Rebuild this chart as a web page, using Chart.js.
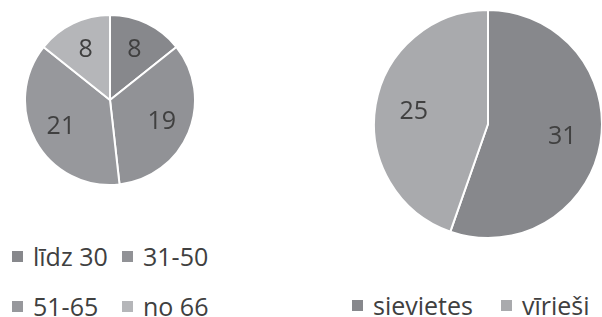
<!DOCTYPE html>
<html>
<head>
<meta charset="utf-8">
<script src="https://cdn.jsdelivr.net/npm/chart.js@4.4.1/dist/chart.umd.min.js"></script>
<style>
	html, body { margin: 0; padding: 0; background: #fff; }
	body { width: 602px; height: 317px; position: relative; overflow: hidden; font-family: 'Open Sans', sans-serif; }
	.pie { position: absolute; }
	.legend { position: absolute; display: grid; color: #404040; font-size: 25px; }
	.legend .item { display: flex; align-items: center; height: 50px; white-space: nowrap; }
	.legend .box { width: 11px; height: 11px; margin-right: 10px; flex: none; }
</style>
</head>
<body>
<div class="pie" style="left:24px; top:14px; width:172px; height:172px;"><canvas id="ageChart"></canvas></div>
<div class="pie" style="left:373px; top:9px; width:230px; height:230px;"><canvas id="genderChart"></canvas></div>
<div class="legend" id="ageLegend" style="left:12px; top:231px; grid-template-columns:110px 110px;"></div>
<div class="legend" id="genderLegend" style="left:352px; top:280px; grid-template-columns:149px auto;"></div>
<script>
	'use strict';

	// vecuma grupas
	const ageLabels = ['līdz 30', '31-50', '51-65', 'no 66'];
	const ageValues = [8, 19, 21, 8];
	const ageColors = ['#87888c', '#919296', '#97989c', '#b5b6b9'];

	// dzimums
	const genderLabels = ['sievietes', 'vīrieši'];
	const genderValues = [31, 25];
	const genderColors = ['#87888c', '#a9aaad'];

	// skaitļi uz sektoriem
	const valueLabels = {
		id: 'valueLabels',
		afterDatasetsDraw(chart) {
			let ctx = chart.ctx;
			let meta = chart.getDatasetMeta(0);
			let data = chart.data.datasets[0].data;
			ctx.save();
			ctx.font = '25px "Open Sans"';
			ctx.fillStyle = '#404040';
			ctx.textAlign = 'center';
			ctx.textBaseline = 'middle';
			meta.data.forEach(function (arc, i) {
				let p = arc.getProps(['x', 'y', 'startAngle', 'endAngle', 'outerRadius'], true);
				let mid = (p.startAngle + p.endAngle) / 2;
				let r = p.outerRadius * 0.66;
				ctx.fillText(data[i], p.x + Math.cos(mid) * r, p.y + Math.sin(mid) * r);
			});
			ctx.restore();
		}
	};

	function makePie(id, labels, values, colors) {
		return new Chart(document.getElementById(id), {
			type: 'pie',
			data: {
				labels: labels,
				datasets: [{
					data: values,
					backgroundColor: colors,
					borderColor: '#ffffff',
					borderWidth: 2
				}]
			},
			options: {
				responsive: true,
				maintainAspectRatio: false,
				animation: false,
				layout: { padding: 0 },
				plugins: {
					legend: { display: false },
					tooltip: { enabled: false }
				}
			},
			plugins: [valueLabels]
		});
	}

	function makeLegend(chart, el) {
		let ds = chart.data.datasets[0];
		chart.data.labels.forEach(function (label, i) {
			let item = document.createElement('div');
			item.className = 'item';
			let box = document.createElement('span');
			box.className = 'box';
			box.style.background = ds.backgroundColor[i];
			let txt = document.createElement('span');
			txt.textContent = label;
			item.appendChild(box);
			item.appendChild(txt);
			el.appendChild(item);
		});
	}

	let ageChart = makePie('ageChart', ageLabels, ageValues, ageColors);
	let genderChart = makePie('genderChart', genderLabels, genderValues, genderColors);
	makeLegend(ageChart, document.getElementById('ageLegend'));
	makeLegend(genderChart, document.getElementById('genderLegend'));
</script>
</body>
</html>
